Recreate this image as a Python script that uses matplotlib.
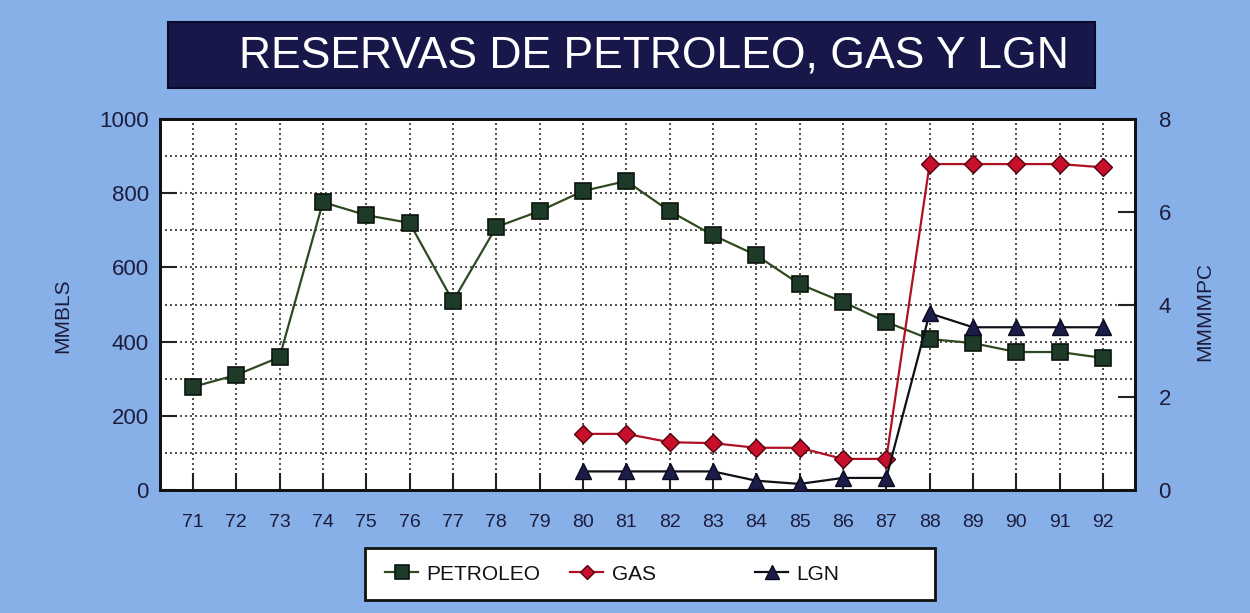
import matplotlib
matplotlib.use('Agg')
import matplotlib.pyplot as plt
from matplotlib.patches import Rectangle
from matplotlib.lines import Line2D

plt.rcParams['font.family'] = ['Liberation Sans', 'DejaVu Sans']

years = [71, 72, 73, 74, 75, 76, 77, 78, 79, 80, 81, 82, 83, 84, 85, 86, 87, 88, 89, 90, 91, 92]
petroleo = [278, 310, 358, 776, 741, 720, 509, 709, 752, 806, 833, 752, 687, 633, 555, 507,
            453, 407, 396, 372, 372, 356]
gas_years = years[9:]
gas = [1.21, 1.21, 1.03, 1.01, 0.91, 0.91, 0.67, 0.67, 7.03, 7.03, 7.03, 7.03, 6.96]
lgn = [0.40, 0.40, 0.40, 0.40, 0.20, 0.13, 0.26, 0.26, 3.81, 3.51, 3.51, 3.51, 3.51]
series_names = ['PETROLEO', 'GAS', 'LGN']

bg = '#88b0e8'
navy = '#17174a'
txt = '#1c1c3c'

fig = plt.figure(figsize=(12.5, 6.13), dpi=100)
fig.patch.set_facecolor(bg)

# title box
fig.patches.append(Rectangle((0.1344, 0.8564), 0.7416, 0.1076, transform=fig.transFigure,
                             facecolor=navy, edgecolor='#0a0a2a', lw=1.5, zorder=1))
fig.text(0.523, 0.908, 'RESERVAS DE PETROLEO, GAS Y LGN', color='white', fontsize=32,
         ha='center', va='center', zorder=2)

ax = fig.add_axes([0.128, 0.2007, 0.78, 0.605])
ax.set_facecolor('white')
ax2 = ax.twinx()

ax.set_xlim(70.24, 92.74)
ax.set_ylim(0, 1000)
ax2.set_ylim(0, 8)

# dotted grid
for y in range(100, 1000, 100):
    ax.axhline(y, color='#34342a', ls=(0, (1.2, 1.8)), lw=1.2, zorder=1)
for x in years:
    ax.axvline(x, color='#34342a', ls=(0, (1.2, 1.8)), lw=1.2, zorder=1)

styles = [
    dict(color='#2f4a1e', marker='s', markersize=12, markerfacecolor='#1e3a28',
         markeredgecolor='#0c140c', markeredgewidth=1.2),
    dict(color='#b01020', marker='D', markersize=9, markerfacecolor='#c8102a',
         markeredgecolor='#500010', markeredgewidth=1.0),
    dict(color='#101018', marker='^', markersize=12, markerfacecolor='#1c1c48',
         markeredgecolor='#0a0a20', markeredgewidth=1.0),
]

ax.plot(years, petroleo, lw=1.6, zorder=3, **styles[0])
ax2.plot(gas_years, gas, lw=1.6, zorder=3, **styles[1])
ax2.plot(gas_years, lgn, lw=1.6, zorder=3, **styles[2])

ax.set_xticks(years)
ax.set_xticklabels([str(y) for y in years])
ax.set_yticks(range(0, 1001, 200))
ax2.set_yticks(range(0, 9, 2))

ax.tick_params(axis='x', direction='in', length=12, width=1.5, pad=17, labelsize=14,
               labelcolor=txt, color='#222222')
ax.tick_params(axis='y', direction='in', length=12, width=1.5, pad=8, labelsize=16,
               labelcolor=txt, color='#222222')
ax2.tick_params(axis='y', direction='in', length=12, width=1.5, pad=17, labelsize=16,
                labelcolor=txt, color='#222222')

for a in (ax, ax2):
    for s in a.spines.values():
        s.set_linewidth(2)
        s.set_color('#111111')

ax.set_ylabel('MMBLS', fontsize=15, color=txt)
ax.yaxis.set_label_coords(-0.09, 0.47)
ax2.set_ylabel('MMMMPC', fontsize=15, color=txt)
ax2.yaxis.set_label_coords(1.062, 0.48)

# legend box with three entries placed individually
fig.patches.append(Rectangle((0.292, 0.0212), 0.456, 0.0848, transform=fig.transFigure,
                             facecolor='white', edgecolor='#111111', lw=2, zorder=1))
entry_x = [385 / 1250, 570 / 1250, 755 / 1250]
for name, st, x0 in zip(series_names, styles, entry_x):
    st = dict(st)
    st['markersize'] = st['markersize'] - 2
    h = Line2D([], [], lw=1.6, **st)
    fig.legend([h], [name], loc='center left', bbox_to_anchor=(x0, 0.0636), frameon=False,
               fontsize=15, handlelength=1.6, handletextpad=0.4, borderpad=0, borderaxespad=0,
               labelcolor='#111111')

fig.savefig('out.png', dpi=100, facecolor=fig.get_facecolor())
